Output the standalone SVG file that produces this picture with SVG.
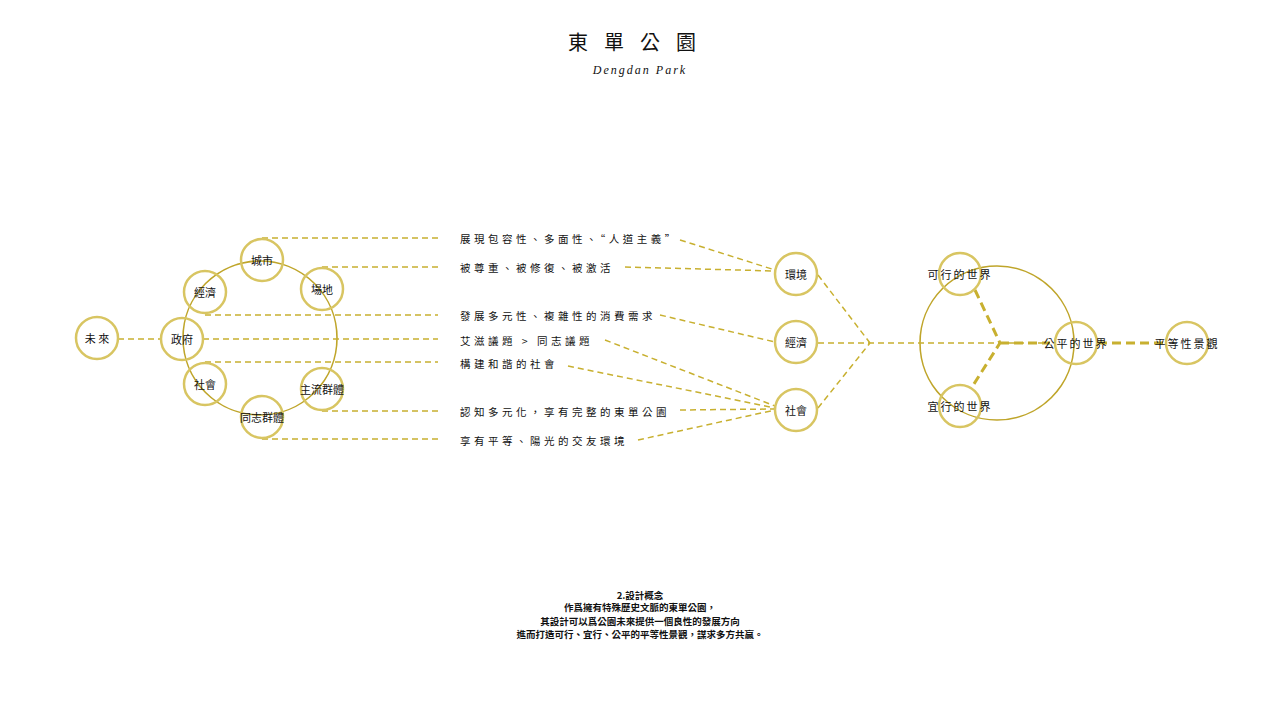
<svg xmlns="http://www.w3.org/2000/svg" width="1280" height="720" viewBox="0 0 1280 720">
<style>
.n{fill:none;stroke:#d8c562;stroke-width:2.5}
.ring{fill:none;stroke:#bfa52a;stroke-width:1.6}
.d{fill:none;stroke:#c8b030;stroke-width:1.5;stroke-dasharray:6 4}
.t{stroke:#c8b030;stroke-width:3;stroke-dasharray:9 5;fill:none}
text{font-family:"Noto Sans CJK TC","Noto Sans CJK SC",serif;fill:#111}
.l{font-size:11px;text-anchor:middle;dominant-baseline:central}
.s{font-size:10.5px;letter-spacing:3.5px;dominant-baseline:central}
.b{font-size:9.5px;text-anchor:middle;font-weight:bold}
</style>
<rect width="1280" height="720" fill="#fff"/>
<text x="640" y="50" font-size="20" text-anchor="middle" letter-spacing="16" style="font-family:'Noto Sans CJK TC',serif">東單公園</text>
<text x="640" y="74" font-size="12" text-anchor="middle" font-style="italic" letter-spacing="2" style="font-family:'Liberation Serif',serif" fill="#444">Dengdan Park</text>
<circle class="ring" cx="260" cy="338" r="77"/>
<circle class="ring" cx="997" cy="343" r="77"/>
<g id="connectors">
<path class="d" d="M118 339H161M262 238H438M322 267H438M205 315H438M203 339H438M205 362H438M322 411H438M262 439H438"/>
<path class="d" d="M680 240L775 270M625 267L775 271M660 315L775 342M605 340L775 406M568 366L775 408M680 410L775 409M638 440L775 410"/>
<path class="d" d="M818 275L870 343M818 408L870 343M818 343H1050"/>
<path class="t" d="M975 290L1000 343L972 387M1000 343H1050M1098 343H1165"/>
</g>
<g id="n-future"><circle class="n" cx="97" cy="338" r="21"/><text class="l" x="97" y="338">未 來</text></g>
<g id="n-gov"><circle class="n" cx="182" cy="339" r="21"/><text class="l" x="182" y="339">政府</text></g>
<g id="n-city"><circle class="n" cx="262" cy="260" r="21"/><text class="l" x="262" y="260">城市</text></g>
<g id="n-econ1"><circle class="n" cx="205" cy="292" r="21"/><text class="l" x="205" y="292">經濟</text></g>
<g id="n-site"><circle class="n" cx="322" cy="289" r="21"/><text class="l" x="322" y="289">場地</text></g>
<g id="n-soc1"><circle class="n" cx="205" cy="384" r="21"/><text class="l" x="205" y="384">社會</text></g>
<g id="n-main"><circle class="n" cx="322" cy="389" r="21"/><text class="l" x="322" y="389">主流群體</text></g>
<g id="n-gay"><circle class="n" cx="262" cy="417" r="21"/><text class="l" x="262" y="417">同志群體</text></g>
<g id="labels">
<text class="s" x="460" y="238">展現包容性、多面性、“人道主義”</text>
<text class="s" x="460" y="267">被尊重、被修復、被激活</text>
<text class="s" x="460" y="315">發展多元性、複雜性的消費需求</text>
<text class="s" x="460" y="340">艾滋議題 &gt; 同志議題</text>
<text class="s" x="460" y="363">構建和諧的社會</text>
<text class="s" x="460" y="411">認知多元化，享有完整的東單公園</text>
<text class="s" x="460" y="440">享有平等、陽光的交友環境</text>
</g>
<g id="n-env"><circle class="n" cx="796" cy="274" r="21"/><text class="l" x="796" y="274">環境</text></g>
<g id="n-econ2"><circle class="n" cx="796" cy="342" r="21"/><text class="l" x="796" y="342">經濟</text></g>
<g id="n-soc2"><circle class="n" cx="796" cy="410" r="21"/><text class="l" x="796" y="410">社會</text></g>
<g id="n-feasible"><circle class="n" cx="960" cy="274" r="21"/><text class="l" x="960" y="274" letter-spacing="2">可行的世界</text></g>
<g id="n-livable"><circle class="n" cx="960" cy="406" r="21"/><text class="l" x="960" y="406" letter-spacing="2">宜行的世界</text></g>
<g id="n-fair"><circle class="n" cx="1076" cy="343" r="21"/><text class="l" x="1076" y="343" letter-spacing="2">公平的世界</text></g>
<g id="n-equal"><circle class="n" cx="1187" cy="343" r="21"/><text class="l" x="1187" y="343" letter-spacing="2">平等性景觀</text></g>
<g id="caption">
<text class="b" x="640" y="599">2.設計概念</text>
<text class="b" x="640" y="611">作爲擁有特殊歷史文脈的東單公園，</text>
<text class="b" x="640" y="625">其設計可以爲公園未來提供一個良性的發展方向</text>
<text class="b" x="640" y="638">進而打造可行、宜行、公平的平等性景觀，謀求多方共贏。</text>
</g>
</svg>
